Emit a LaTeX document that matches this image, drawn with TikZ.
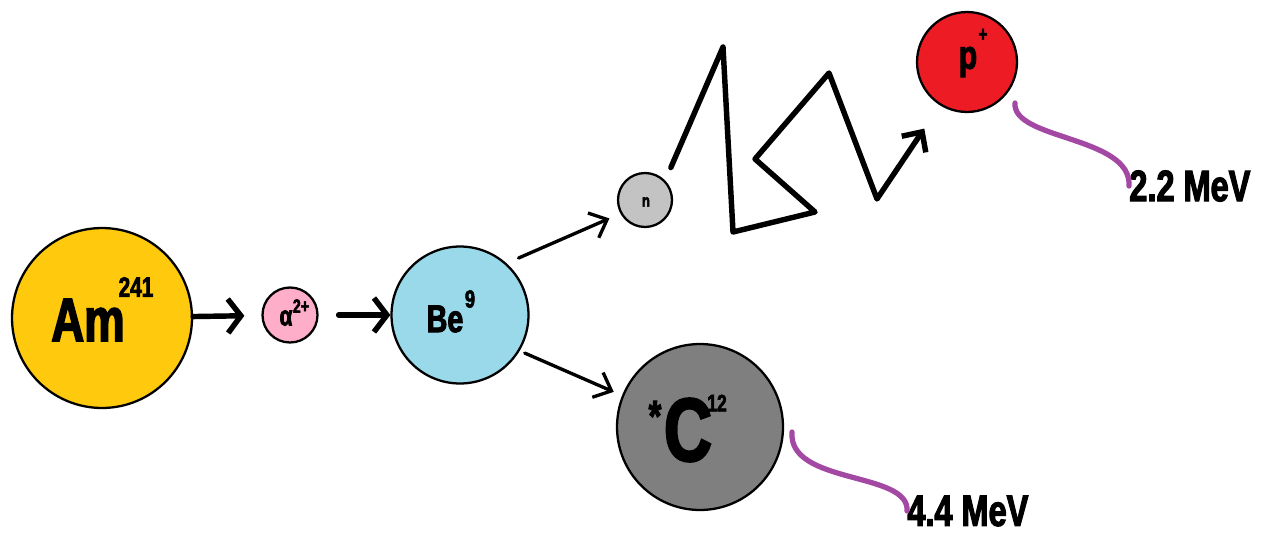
\documentclass[tikz,border=0pt]{standalone}
\usepackage{fontspec}
\usepackage{tikz}
\usetikzlibrary{arrows.meta}
\newfontfamily\impfont[FakeStretch=0.74,FakeBold=2.5]{Liberation Sans Bold}
\newcommand\imp[1]{\impfont\fontsize{#1}{#1}\selectfont}
\definecolor{amyellow}{HTML}{FFC90E}
\definecolor{alphapink}{HTML}{FFAEC9}
\definecolor{beblue}{HTML}{99D9EA}
\definecolor{ngrey}{HTML}{C3C3C3}
\definecolor{pred}{HTML}{ED1C24}
\definecolor{cgrey}{HTML}{7F7F7F}
\definecolor{leadpurple}{HTML}{A349A4}

\begin{document}
\begin{tikzpicture}[
    x=0.02cm, y=-0.02cm,
    atom/.style={circle, draw=black, line width=1.3pt, inner sep=0pt},
    txt/.style={inner sep=0pt, text=black},
    fat/.style={-{Straight Barb[length=0.26cm, width=0.68cm]}, line width=3.1pt, line cap=round},
    slim/.style={-{Straight Barb[length=0.3cm, width=0.54cm]}, line width=1.9pt, line cap=round},
    zig/.style={-{Straight Barb[length=0.3cm, width=0.58cm]}, line width=3.1pt,
                line join=round, line cap=round},
    lead/.style={leadpurple, line width=3pt, line cap=round},
  ]
  \useasboundingbox (0,0) rectangle (1263,534);

  % ---------------- nuclei
  \node[atom, fill=amyellow,  minimum size=3.6cm]  (am)    at (102,318) {};
  \node[atom, fill=alphapink, minimum size=1.1cm]  (alpha) at (290,315) {};
  \node[atom, fill=beblue,    minimum size=2.74cm] (be)    at (460,315) {};
  \node[atom, fill=ngrey,     minimum size=1.08cm] (n)     at (645,200) {};
  \node[atom, fill=pred,      minimum size=2.0cm]  (p)     at (967,62)  {};
  \node[atom, fill=cgrey,     minimum size=3.32cm] (c)     at (700,427) {};

  % ---------------- symbols
  \node[txt, font=\imp{35}]   (amtxt)    at (88,320)  {Am};
  \node[txt, font=\imp{16}]   (amsup)    at (136,287) {241};
  \node[txt, font=\imp{16}]   (alphatxt) at (286,318) {α};
  \node[txt, font=\imp{11}]   (alphasup) at (301,306) {2+};
  \node[txt, font=\imp{22}]   (betxt)    at (445,319) {Be};
  \node[txt, font=\imp{14}]   (besup)    at (470,299) {9};
  \node[txt, font=\imp{10}]   (ntxt)     at (646,202) {n};
  \node[txt, font=\imp{23}]   (ptxt)     at (968,62)  {p};
  \node[txt, font=\imp{12}]   (psup)     at (983,35)  {+};
  \node[txt, font=\imp{25}]   (cstar)    at (655,416) {*};
  \node[txt, font=\imp{51}]   (ctxt)     at (688,430) {C};
  \node[txt, font=\imp{13.5}] (csup)     at (717,403) {12};

  % ---------------- energies
  \node[txt, font=\imp{25}, anchor=west] (mev22) at (1129,186) {2.2 MeV};
  \node[txt, font=\imp{25}, anchor=west] (mev44) at (907,511) {4.4 MeV};

  % ---------------- reaction arrows
  \draw[fat, shorten >=0.34cm] (am) -- (alpha);
  \draw[fat, shorten <=0.4cm] (alpha) -- (be);
  \draw[slim, shorten <=0.26cm, shorten >=0.24cm] (be.48) -- (n.209);
  \draw[slim, shorten <=0.11cm, shorten >=0.18cm] (be.-31) -- (c.158);

  % ---------------- neutron path
  \coordinate (z1) at (723,47);
  \coordinate (z2) at (733,232);
  \coordinate (z3) at (815,212);
  \coordinate (z4) at (755,159);
  \coordinate (z5) at (829,73);
  \coordinate (z6) at (877,199);
  \draw[zig, shorten <=0.28cm, shorten >=0.56cm]
    (n.44) -- (z1) -- (z2) -- (z3) -- (z4) -- (z5) -- (z6) -- (p.238);

  % ---------------- gamma leads
  \coordinate (pg) at (1015,103);
  \coordinate (cg) at (792,432);
  \draw[lead] (pg) .. controls +(-3,37) and +(3,-50) .. (mev22.west);
  \draw[lead] (cg) .. controls +(-4,53) and +(3,-40) .. (mev44.west);
\end{tikzpicture}
\end{document}
